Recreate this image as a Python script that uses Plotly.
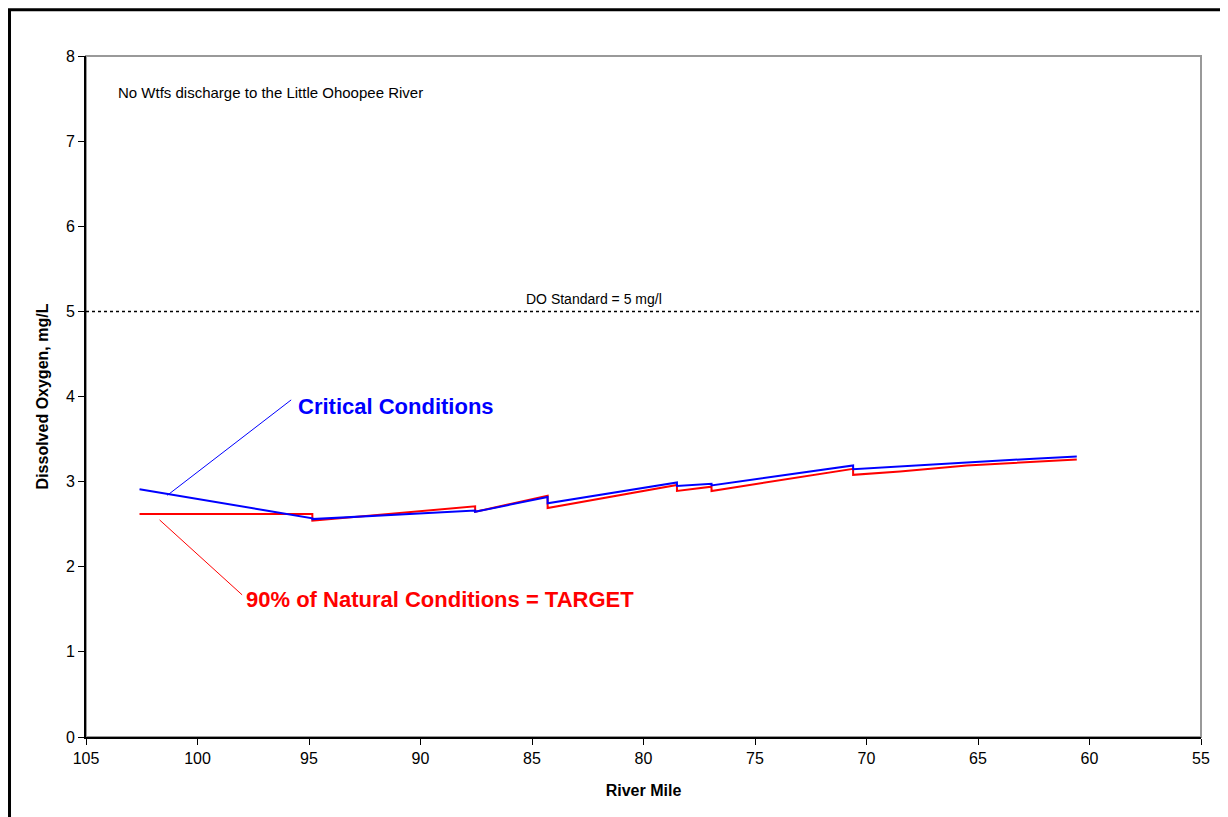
import plotly.graph_objects as go

# Critical Conditions (blue)
crit_mile = [102.6, 94.85, 94.85, 87.55, 87.55, 84.3, 84.3, 78.5, 78.5, 76.95, 76.95, 70.6, 70.6, 68.5, 65.5, 62.5, 60.57]
crit_do   = [2.91, 2.57, 2.56, 2.66, 2.645, 2.82, 2.745, 2.99, 2.95, 2.975, 2.955, 3.19, 3.145, 3.175, 3.225, 3.27, 3.295]

# 90% of Natural Conditions = TARGET (red)
targ_mile = [102.6, 94.85, 94.85, 87.55, 87.55, 84.3, 84.3, 78.5, 78.5, 76.95, 76.95, 70.6, 70.6, 68.5, 65.5, 62.5, 60.57]
targ_do   = [2.62, 2.62, 2.54, 2.71, 2.645, 2.835, 2.69, 2.96, 2.89, 2.94, 2.89, 3.15, 3.08, 3.12, 3.19, 3.235, 3.26]

do_standard = 5
x_ticks = [105, 100, 95, 90, 85, 80, 75, 70, 65, 60, 55]
y_ticks = [0, 1, 2, 3, 4, 5, 6, 7, 8]

fig = go.Figure()
fig.add_trace(go.Scatter(x=targ_mile, y=targ_do, mode="lines",
                         line=dict(color="#ff0000", width=2), showlegend=False))
fig.add_trace(go.Scatter(x=crit_mile, y=crit_do, mode="lines",
                         line=dict(color="#0000ff", width=2), showlegend=False))

# DO standard dotted line
fig.add_shape(type="line", xref="paper", yref="y", x0=0, x1=1, y0=do_standard, y1=do_standard,
              line=dict(color="black", width=1.5, dash="dot"))
# plot area border (gray, top/right)
fig.add_shape(type="rect", xref="paper", yref="paper", x0=0, x1=1, y0=0, y1=1,
              line=dict(color="#999999", width=2), layer="below")
# outer chart border
fig.add_shape(type="rect", xref="paper", yref="paper", x0=-0.0686, x1=1.2, y0=-0.3, y1=1.068,
              line=dict(color="black", width=3))

# leader lines for labels
fig.add_shape(type="line", xref="x", yref="y", x0=101.35, y0=2.84, x1=95.8, y1=3.96,
              line=dict(color="#0000ff", width=1))
fig.add_shape(type="line", xref="x", yref="y", x0=101.7, y0=2.55, x1=98.0, y1=1.67,
              line=dict(color="#ff0000", width=1))

fig.add_annotation(x=95.6, y=3.88, xref="x", yref="y", text="<b>Critical Conditions</b>",
                   showarrow=False, xanchor="left", yanchor="middle",
                   font=dict(family="Arial", size=22, color="#0000ff"))
fig.add_annotation(x=97.9, y=1.61, xref="x", yref="y", text="<b>90% of Natural Conditions = TARGET</b>",
                   showarrow=False, xanchor="left", yanchor="middle",
                   font=dict(family="Arial", size=22, color="#ff0000"))
fig.add_annotation(x=0.456, y=do_standard, xref="paper", yref="y", text="DO Standard = 5 mg/l",
                   showarrow=False, xanchor="center", yanchor="bottom", yshift=2,
                   font=dict(family="Arial", size=14, color="black"))
fig.add_annotation(x=103.65, y=7.57, xref="x", yref="y",
                   text="No Wtfs discharge to the Little Ohoopee River",
                   showarrow=False, xanchor="left", yanchor="middle",
                   font=dict(family="Arial", size=15, color="black"))

fig.update_layout(
    width=1220, height=809,
    margin=dict(l=78, r=27, t=48, b=80),
    paper_bgcolor="white", plot_bgcolor="white",
    font=dict(family="Arial", color="black"),
    xaxis=dict(range=[105, 55], tickvals=x_ticks, ticks="outside", ticklen=6,
               tickcolor="black", showline=True, linecolor="black", linewidth=2,
               showgrid=False, zeroline=False, tickfont=dict(size=16),
               title=dict(text="<b>River Mile</b>", font=dict(size=16), standoff=19)),
    yaxis=dict(range=[0, 8], tickvals=y_ticks, ticks="outside", ticklen=6,
               tickcolor="black", showline=True, linecolor="black", linewidth=2,
               showgrid=False, zeroline=False, tickfont=dict(size=16),
               title=dict(text="<b>Dissolved Oxygen, mg/L</b>", font=dict(size=16), standoff=13)),
)

fig.write_html("out.html")
